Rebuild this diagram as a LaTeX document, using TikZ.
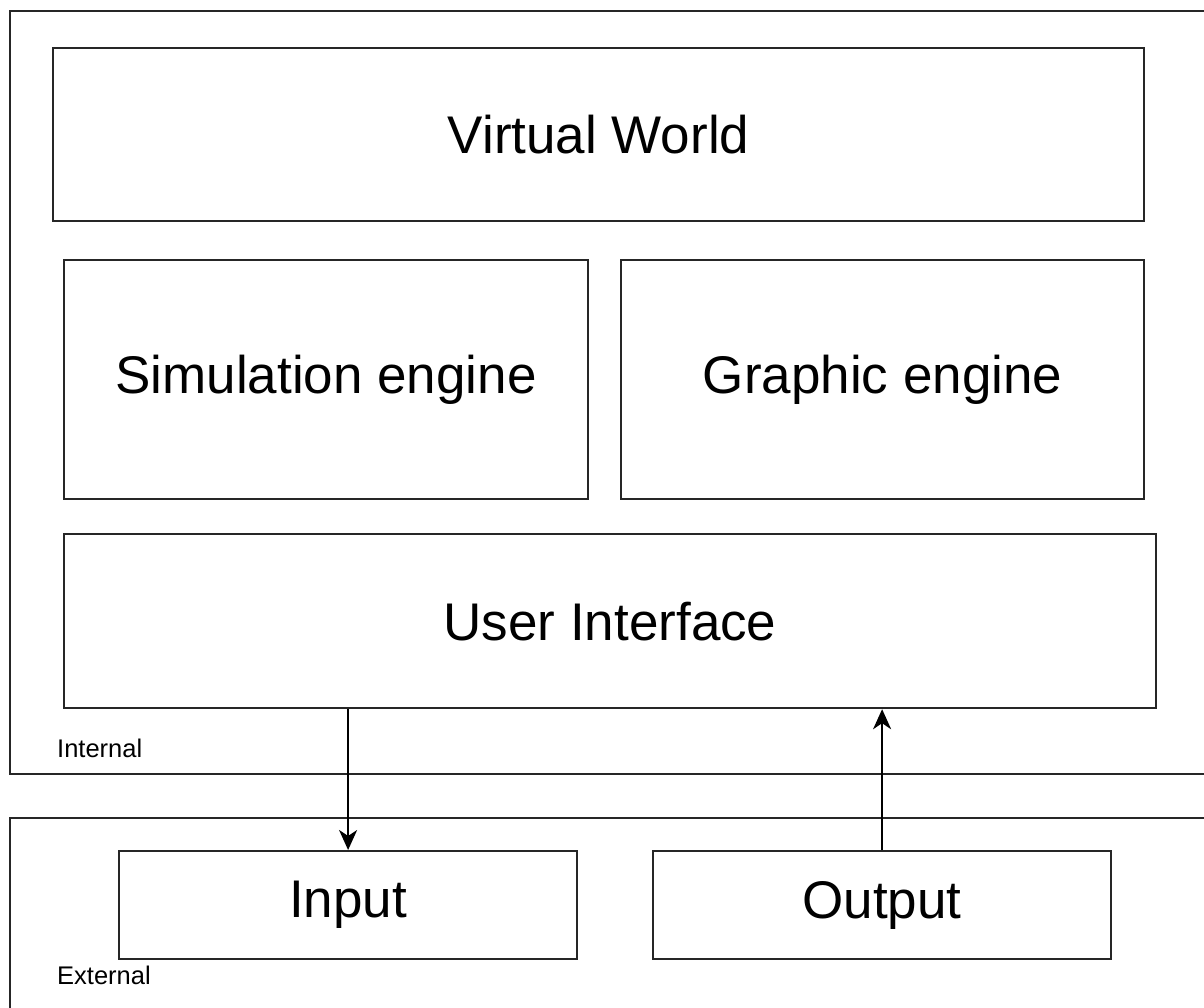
\documentclass[tikz,border=0pt]{standalone}
\usepackage{fontspec}
\setmainfont{Liberation Sans}
\usetikzlibrary{arrows.meta}
\begin{document}
\begin{tikzpicture}[x=1pt,y=-1pt,
  box/.style={draw=black!85,line width=2.2pt,inner sep=0pt,anchor=north west,font=\fontsize{53}{62}\selectfont},
  frame/.style={draw=black!85,line width=2.2pt,inner sep=0pt,anchor=north west},
  small/.style={font=\fontsize{25.5}{30}\selectfont,anchor=west,inner sep=0pt},
  arr/.style={draw=black,line width=2.2pt,-{Stealth[length=20pt,width=18pt,inset=6pt]}}]
\clip (0,0) rectangle (1204,1008);
\fill[white] (0,0) rectangle (1204,1008);
\node[frame,minimum width=1220pt,minimum height=763pt] (internal) at (9,10) {};
\node[frame,minimum width=1220pt,minimum height=230pt] (external) at (9,817) {};
\node[box,minimum width=1091pt,minimum height=173pt] (vw) at (52,47) {Virtual World};
\node[box,minimum width=524pt,minimum height=239pt] (sim) at (63,259) {Simulation engine};
\node[box,minimum width=523pt,minimum height=239pt] (gfx) at (620,259) {Graphic engine};
\node[box,minimum width=1092pt,minimum height=174pt] (ui) at (63,533) {User Interface};
\node[box,minimum width=458pt,minimum height=108pt] (inp) at (118,850) {Input};
\node[box,minimum width=458pt,minimum height=108pt] (out) at (652,850) {Output};
\node[small] (intlab) at (57,748) {Internal};
\node[small] (extlab) at (57,975) {External};
\draw[arr] (ui.south -| inp.north) -- (inp.north);
\draw[arr] (out.north) -- (ui.south -| out.north);
\end{tikzpicture}
\end{document}
